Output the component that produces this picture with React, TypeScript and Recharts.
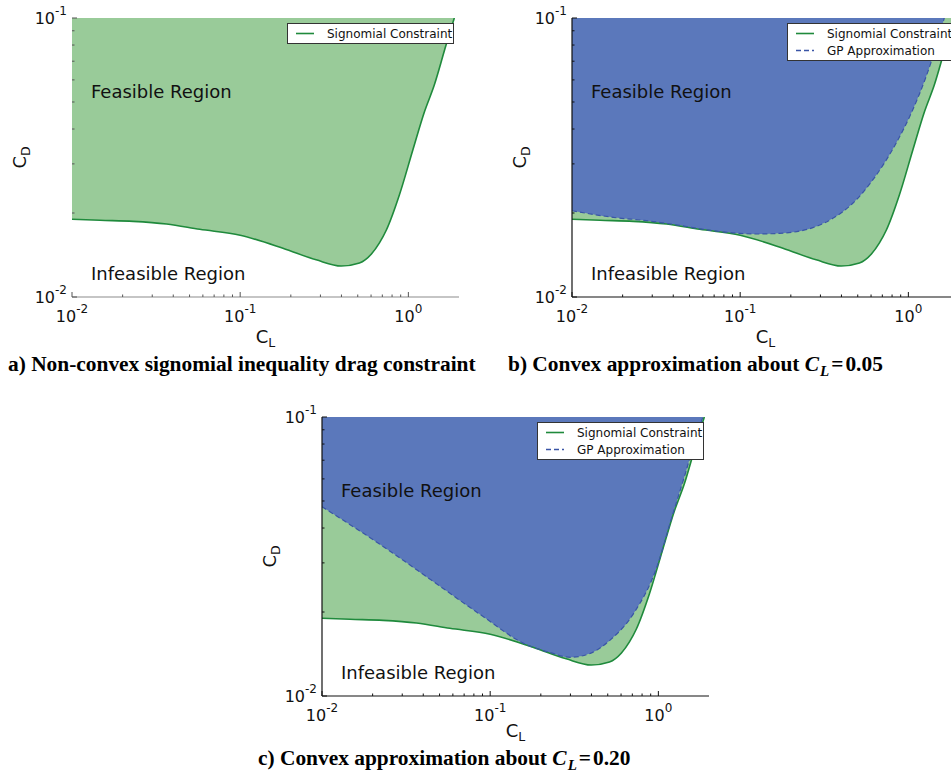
import React from 'react';
import { ComposedChart, Area, Line, XAxis, YAxis, ReferenceDot, Legend } from 'recharts';

// Signomial drag constraint boundary: minimum feasible C_D for each C_L
const CL_SIGNOMIAL = [0.01, 0.01466, 0.0231, 0.0365, 0.0575, 0.1, 0.1795, 0.283, 0.399, 0.512, 0.603, 0.673, 0.74, 0.884, 1.063, 1.245, 1.426, 1.675, 1.876];
const CD_SIGNOMIAL = [0.01899, 0.01883, 0.01867, 0.01826, 0.01748, 0.01664, 0.01496, 0.01359, 0.01291, 0.01324, 0.01426, 0.01563, 0.01738, 0.0232, 0.03363, 0.04603, 0.0575, 0.08, 0.1];

// GP (convex) approximation about C_L = 0.05
const CL_GP_005 = [0.01, 0.01758, 0.02776, 0.04375, 0.069, 0.1248, 0.1715, 0.2705, 0.3556, 0.4672, 0.6142, 0.8448, 1.0605, 1.274, 1.461, 1.635];
const CD_GP_005 = [0.02038, 0.0193, 0.01877, 0.01805, 0.01728, 0.01682, 0.01691, 0.01772, 0.01914, 0.02167, 0.02627, 0.03556, 0.04681, 0.0616, 0.0789, 0.1];

// GP (convex) approximation about C_L = 0.20
const CL_GP_020 = [0.01, 0.0232, 0.046, 0.0912, 0.158, 0.2275, 0.299, 0.394, 0.518, 0.713, 0.982, 1.2, 1.45, 1.7, 1.84];
const CD_GP_020 = [0.0477, 0.0343, 0.0257, 0.01923, 0.01544, 0.0143, 0.01376, 0.01422, 0.01589, 0.01977, 0.0291, 0.0435, 0.063, 0.087, 0.1];

// Axis ranges and tick values (log decades with minor ticks)
const CL_DOMAIN: [number, number] = [0.01, 2];
const CD_DOMAIN: [number, number] = [0.01, 0.1];
const CL_TICKS = [0.01, 0.02, 0.03, 0.04, 0.05, 0.06, 0.07, 0.08, 0.09, 0.1, 0.2, 0.3, 0.4, 0.5, 0.6, 0.7, 0.8, 0.9, 1];
const CD_TICKS = [0.01, 0.02, 0.03, 0.04, 0.05, 0.06, 0.07, 0.08, 0.09, 0.1];

// Region annotations (data coordinates)
const FEASIBLE_AT = { cl: 0.01297, cd: 0.0517 };
const INFEASIBLE_AT = { cl: 0.01297, cd: 0.01151 };

const SIG_LABEL = 'Signomial Constraint';
const GP_LABEL = 'GP Approximation';

const GREEN_FILL = '#99cb99';
const GREEN_LINE = '#1f8a3c';
const BLUE_FILL = '#5b78bb';
const BLUE_LINE = '#3a55a6';
const SANS = 'DejaVu Sans, Verdana, sans-serif';
const SERIF = 'Liberation Serif, Times New Roman, serif';

type Row = { cl: number; sig?: number; gp?: number };

function mergeSeries(sig: [number[], number[]], gp?: [number[], number[]]): Row[] {
  const map = new Map<number, Row>();
  sig[0].forEach((x, i) => {
    const r = map.get(x) ?? { cl: x };
    r.sig = sig[1][i];
    map.set(x, r);
  });
  if (gp) {
    gp[0].forEach((x, i) => {
      const r = map.get(x) ?? { cl: x };
      r.gp = gp[1][i];
      map.set(x, r);
    });
  }
  return Array.from(map.values()).sort((a, b) => a.cl - b.cl);
}

const isMajor = (v: number) => Math.abs(Math.log10(v) - Math.round(Math.log10(v))) < 1e-9;

type Side = 'bottom' | 'top' | 'left' | 'right';

function makeTick(side: Side, color: string) {
  return (props: any) => {
    const { x, y, payload } = props;
    const v = payload.value as number;
    const major = isMajor(v);
    const len = major ? 5 : 2.5;
    const exp = String(Math.round(Math.log10(v)));
    let line;
    if (side === 'bottom') line = <line x1={x} x2={x} y1={y} y2={y - len} stroke={color} strokeWidth={1} />;
    else if (side === 'top') line = <line x1={x} x2={x} y1={y} y2={y + len} stroke={color} strokeWidth={1} />;
    else if (side === 'left') line = <line x1={x} x2={x + len} y1={y} y2={y} stroke={color} strokeWidth={1} />;
    else line = <line x1={x} x2={x - len} y1={y} y2={y} stroke={color} strokeWidth={1} />;
    let label = null;
    if (major && side === 'bottom') {
      label = (
        <text x={x} y={y + 25} textAnchor="middle" fontFamily={SANS} fontSize={16} fill="#111">
          10<tspan fontSize={12} dy={-9}>{exp}</tspan>
        </text>
      );
    } else if (major && side === 'left') {
      label = (
        <text x={x - 5} y={y + 6} textAnchor="end" fontFamily={SANS} fontSize={16} fill="#111">
          10<tspan fontSize={12} dy={-9}>{exp}</tspan>
        </text>
      );
    }
    return (
      <g>
        {line}
        {label}
      </g>
    );
  };
}

const makeXLabel = (gap: number) => (props: any) => {
  const vb = props.viewBox;
  return (
    <text x={vb.x + vb.width / 2} y={vb.y + gap} textAnchor="middle" fontFamily={SANS} fontSize={18} fill="#111">
      C<tspan fontSize={12.5} dy={4}>L</tspan>
    </text>
  );
};

const yLabel = (props: any) => {
  const vb = props.viewBox;
  const cx = vb.x + vb.width - 46;
  const cy = vb.y + vb.height / 2;
  return (
    <text x={cx} y={cy} transform={`rotate(-90 ${cx} ${cy})`} textAnchor="middle" fontFamily={SANS} fontSize={18} fill="#111">
      C<tspan fontSize={12.5} dy={4}>D</tspan>
    </text>
  );
};

const regionText = (text: string) => (p: any) => (
  <text x={p.cx} y={p.cy} fontFamily={SANS} fontSize={18} fill="#111">
    {text}
  </text>
);

type Entry = { label: string; color: string; dash?: string };

function LegendBox({ entries }: { entries: Entry[] }) {
  return (
    <div
      style={{
        background: '#fff',
        border: '1px solid #333',
        width: 165,
        padding: '1px 0',
        fontFamily: SANS,
        fontSize: 12,
        color: '#111',
        boxSizing: 'content-box',
      }}
    >
      {entries.map((e) => (
        <div key={e.label} style={{ display: 'flex', alignItems: 'center', height: 17, whiteSpace: 'nowrap' }}>
          <svg width={39} height={17} style={{ flex: 'none' }}>
            <line x1={8} x2={26} y1={8.5} y2={8.5} stroke={e.color} strokeWidth={1.6} strokeDasharray={e.dash} />
          </svg>
          <span>{e.label}</span>
        </div>
      ))}
    </div>
  );
}

type PanelProps = {
  left: number;
  top: number;
  rows: Row[];
  withGp: boolean;
  spine: string;
  tickColor: string;
  hideLeftTop: boolean;
  labelGap: number;
};

const CHART_W = 469;
const CHART_H = 352;

function Panel({ left, top, rows, withGp, spine, tickColor, hideLeftTop, labelGap }: PanelProps) {
  const entries: Entry[] = [{ label: SIG_LABEL, color: GREEN_LINE }];
  if (withGp) entries.push({ label: GP_LABEL, color: BLUE_LINE, dash: '5 3' });
  const spineLine = { stroke: spine, strokeWidth: 1.2 };
  return (
    <div style={{ position: 'absolute', left, top }}>
      <ComposedChart width={CHART_W} height={CHART_H} data={rows} margin={{ top: 18, right: 10, bottom: 0, left: 0 }}>
        <Area
          dataKey="sig"
          type="monotone"
          baseValue={CD_DOMAIN[1]}
          fill={GREEN_FILL}
          fillOpacity={1}
          stroke="none"
          connectNulls
          dot={false}
          activeDot={false}
          isAnimationActive={false}
        />
        {withGp && (
          <Area
            dataKey="gp"
            type="monotone"
            baseValue={CD_DOMAIN[1]}
            fill={BLUE_FILL}
            fillOpacity={1}
            stroke="none"
            connectNulls
            dot={false}
            activeDot={false}
            isAnimationActive={false}
          />
        )}
        <Line
          dataKey="sig"
          type="monotone"
          stroke={GREEN_LINE}
          strokeWidth={1.6}
          connectNulls
          dot={false}
          activeDot={false}
          isAnimationActive={false}
        />
        {withGp && (
          <Line
            dataKey="gp"
            type="monotone"
            stroke={BLUE_LINE}
            strokeWidth={1.2}
            strokeDasharray="5 3"
            connectNulls
            dot={false}
            activeDot={false}
            isAnimationActive={false}
          />
        )}
        <ReferenceDot x={FEASIBLE_AT.cl} y={FEASIBLE_AT.cd} r={0} shape={regionText('Feasible Region')} />
        <ReferenceDot x={INFEASIBLE_AT.cl} y={INFEASIBLE_AT.cd} r={0} shape={regionText('Infeasible Region')} />
        <XAxis
          dataKey="cl"
          type="number"
          scale="log"
          domain={CL_DOMAIN}
          allowDataOverflow
          ticks={CL_TICKS}
          interval={0}
          height={55}
          tickSize={0}
          tickMargin={0}
          tickLine={false}
          axisLine={spineLine}
          tick={makeTick('bottom', tickColor)}
          label={makeXLabel(labelGap)}
        />
        <XAxis
          xAxisId="top"
          orientation="top"
          dataKey="cl"
          type="number"
          scale="log"
          domain={CL_DOMAIN}
          allowDataOverflow
          ticks={CL_TICKS}
          interval={0}
          height={0}
          tickSize={0}
          tickMargin={0}
          tickLine={false}
          axisLine={hideLeftTop ? false : spineLine}
          tick={makeTick('top', tickColor)}
        />
        <YAxis
          type="number"
          scale="log"
          domain={CD_DOMAIN}
          allowDataOverflow
          ticks={CD_TICKS}
          interval={0}
          width={72}
          tickSize={0}
          tickMargin={0}
          tickLine={false}
          axisLine={hideLeftTop ? false : spineLine}
          tick={makeTick('left', tickColor)}
          label={yLabel}
        />
        <YAxis
          yAxisId="right"
          orientation="right"
          type="number"
          scale="log"
          domain={CD_DOMAIN}
          allowDataOverflow
          ticks={CD_TICKS}
          interval={0}
          width={0}
          tickSize={0}
          tickMargin={0}
          tickLine={false}
          axisLine={spineLine}
          tick={makeTick('right', tickColor)}
        />
        <Legend
          layout="vertical"
          align="center"
          verticalAlign="middle"
          wrapperStyle={{ left: 287, top: 23, width: 167, height: 'auto' }}
          content={() => <LegendBox entries={entries} />}
        />
      </ComposedChart>
    </div>
  );
}

const rowsA = mergeSeries([CL_SIGNOMIAL, CD_SIGNOMIAL]);
const rowsB = mergeSeries([CL_SIGNOMIAL, CD_SIGNOMIAL], [CL_GP_005, CD_GP_005]);
const rowsC = mergeSeries([CL_SIGNOMIAL, CD_SIGNOMIAL], [CL_GP_020, CD_GP_020]);

function Caption({ x, y, prefix, value }: { x: number; y: number; prefix: string; value?: string }) {
  return (
    <text x={x} y={y} fontFamily={SERIF} fontWeight="bold" fontSize={21.4} fill="#000">
      {prefix}
      {value !== undefined && (
        <>
          <tspan fontStyle="italic">C</tspan>
          <tspan fontStyle="italic" fontSize={15} dx={1} dy={5}>L</tspan>
          <tspan dx={2} dy={-5}>=</tspan>
          <tspan dx={2}>{value}</tspan>
        </>
      )}
    </text>
  );
}

export default function App() {
  return (
    <div style={{ position: 'absolute', left: 0, top: 0, width: 951, height: 772, overflow: 'hidden', background: '#fff' }}>
      <svg width={951} height={772} style={{ position: 'absolute', left: 0, top: 0 }}>
        <Caption x={8} y={371} prefix="a) Non-convex signomial inequality drag constraint" />
        <Caption x={508} y={371} prefix="b) Convex approximation about " value="0.05" />
        <Caption x={258} y={765} prefix="c) Convex approximation about " value="0.20" />
      </svg>
      <Panel left={0} top={0} rows={rowsA} withGp={false} spine="#8c8c8c" tickColor="#555" hideLeftTop labelGap={46} />
      <Panel left={500} top={0} rows={rowsB} withGp spine="#111" tickColor="#111" hideLeftTop={false} labelGap={46} />
      <Panel left={250} top={399} rows={rowsC} withGp spine="#111" tickColor="#111" hideLeftTop={false} labelGap={41} />
    </div>
  );
}
